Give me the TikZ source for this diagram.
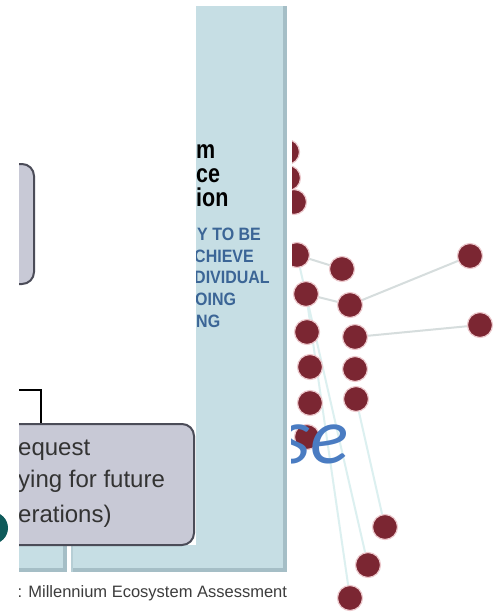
\documentclass[tikz,border=0pt]{standalone}
\usepackage{fontspec}
\usepackage{graphicx}
\setmainfont{Liberation Sans}
\newfontfamily\calibri{Carlito}
\definecolor{boxfill}{RGB}{200,201,214}
\definecolor{boxborder}{RGB}{75,76,88}
\definecolor{panelblue}{RGB}{198,222,228}
\definecolor{panelborder}{RGB}{165,190,198}
\definecolor{dotred}{RGB}{123,38,50}
\definecolor{dotring}{RGB}{236,200,204}
\definecolor{edgegray}{RGB}{214,221,221}
\definecolor{edgeteal}{RGB}{220,240,240}
\definecolor{titleblue}{RGB}{59,101,150}
\definecolor{seblue}{RGB}{74,124,194}
\definecolor{tealdark}{RGB}{15,91,91}
\definecolor{captiongray}{RGB}{60,60,60}
\pgfdeclarelayer{edges}
\pgfsetlayers{edges,main}
\begin{document}
\begin{tikzpicture}[x=1pt,y=-1pt,
  dot/.style={circle,fill=dotred,draw=dotring,line width=1.2pt,minimum size=25pt,inner sep=0pt},
  netedge/.style={draw=edgegray,line width=2pt},
  tealedge/.style={draw=edgeteal,line width=2pt},
  boxshape/.style={draw=boxborder,fill=boxfill,line width=2pt,rounded corners=12pt,inner sep=0pt,anchor=north west},
  boxtext/.style={anchor=base west,inner sep=0pt,text=black!80,font=\fontsize{24}{28}\selectfont},
  titletext/.style={anchor=base west,inner sep=0pt,text=black,font=\bfseries\fontsize{21.5}{24}\selectfont},
  bluetext/.style={anchor=base west,inner sep=0pt,text=titleblue,font=\bfseries\fontsize{16}{18}\selectfont},
  conn/.style={draw=black,line width=2.6pt}]
\useasboundingbox (0,0) rectangle (500,614);
\begin{pgfonlayer}{edges}
\fill[white] (0,0) rectangle (500,614);
\end{pgfonlayer}

% network (clipped at its left edge)
\begin{scope}
\clip (292,0) rectangle (500,614);
\node[dot] (A) at (287,152) {};
\node[dot] (B) at (288,178) {};
\node[dot] (C) at (294,202) {};
\node[dot] (D) at (297,255) {};
\node[dot] (E) at (342,269) {};
\node[dot] (F) at (306,294) {};
\node[dot] (G) at (350,305) {};
\node[dot] (H) at (307,332) {};
\node[dot] (I) at (355,337) {};
\node[dot] (J) at (310,367) {};
\node[dot] (K) at (355,369) {};
\node[dot] (L) at (310,403) {};
\node[dot] (M) at (356,399) {};
\node[dot] (N) at (307,437) {};
\node[dot] (O) at (385,527) {};
\node[dot] (P) at (368,565) {};
\node[dot] (Q) at (350,598) {};
\node[dot] (R) at (470,256) {};
\node[dot] (S) at (480,325) {};
\begin{pgfonlayer}{edges}
\draw[netedge] (D) -- (E);
\draw[netedge] (F) -- (G);
\draw[netedge] (G) -- (R);
\draw[netedge] (I) -- (S);
\draw[tealedge] (F) -- (Q);
\draw[tealedge] (D) -- (P);
\draw[tealedge] (M) -- (O);
\end{pgfonlayer}
\end{scope}
\begin{scope}
\clip (291,0) rectangle (500,614);
\node[anchor=base west,inner sep=0pt,text=seblue,font=\calibri\itshape\fontsize{80}{90}\selectfont] (se) at (279,463) {se};
\end{scope}

% blue panel
\fill[panelblue] (19,6) rectangle (287,572);
\fill[panelborder] (283,6) rectangle (287,572);
\fill[panelborder] (19,568) rectangle (287,572);
\fill[panelborder] (63,545) rectangle (67,572);
\fill[white] (67,545) rectangle (71,572);
\fill[panelborder!50!panelblue] (71,545) rectangle (73,572);
\node[titletext] (t1) at (196,158) {\scalebox{1}[1.2]{m}};
\node[titletext] (t2) at (196,182) {\scalebox{1}[1.2]{ce}};
\node[titletext] (t3) at (196,206) {\scalebox{1}[1.2]{ion}};
\node[bluetext] (b1) at (197,240) {\scalebox{1}[1.12]{Y TO BE}};
\node[bluetext] (b2) at (194,262) {\scalebox{1}[1.12]{CHIEVE}};
\node[bluetext] (b3) at (194,283) {\scalebox{1}[1.12]{DIVIDUAL}};
\node[bluetext] (b4) at (195,305) {\scalebox{1}[1.12]{OING}};
\node[bluetext] (b5) at (196,327) {\scalebox{1}[1.12]{NG}};

% white overlay panel
\fill[white] (0,0) rectangle (196,545);
\fill[white] (0,0) rectangle (19,614);
\begin{scope}
\clip (19,0) rectangle (196,546);
\node[boxshape,minimum width=63pt,minimum height=120pt] (top) at (-30,163) {};
\node[boxshape,minimum width=223pt,minimum height=121pt] (bot) at (-30,423) {};
\coordinate (c0) at (10,390);
\draw[conn] (c0) -| ([xshift=71pt]bot.north west);
\node[boxtext] (x1) at (18,455) {equest};
\node[boxtext] (x2) at (18,487) {ying for future};
\node[boxtext] (x3) at (18,522) {erations)};
\end{scope}

% left fragment
\begin{scope}
\clip (0,0) rectangle (19,614);
\fill[tealdark] (-8,528) circle (16);
\end{scope}

% caption
\node[anchor=base west,inner sep=0pt,text=captiongray,font=\fontsize{16.5}{20}\selectfont] (cap) at (17.5,597) {: Millennium Ecosystem Assessment};
\end{tikzpicture}
\end{document}
